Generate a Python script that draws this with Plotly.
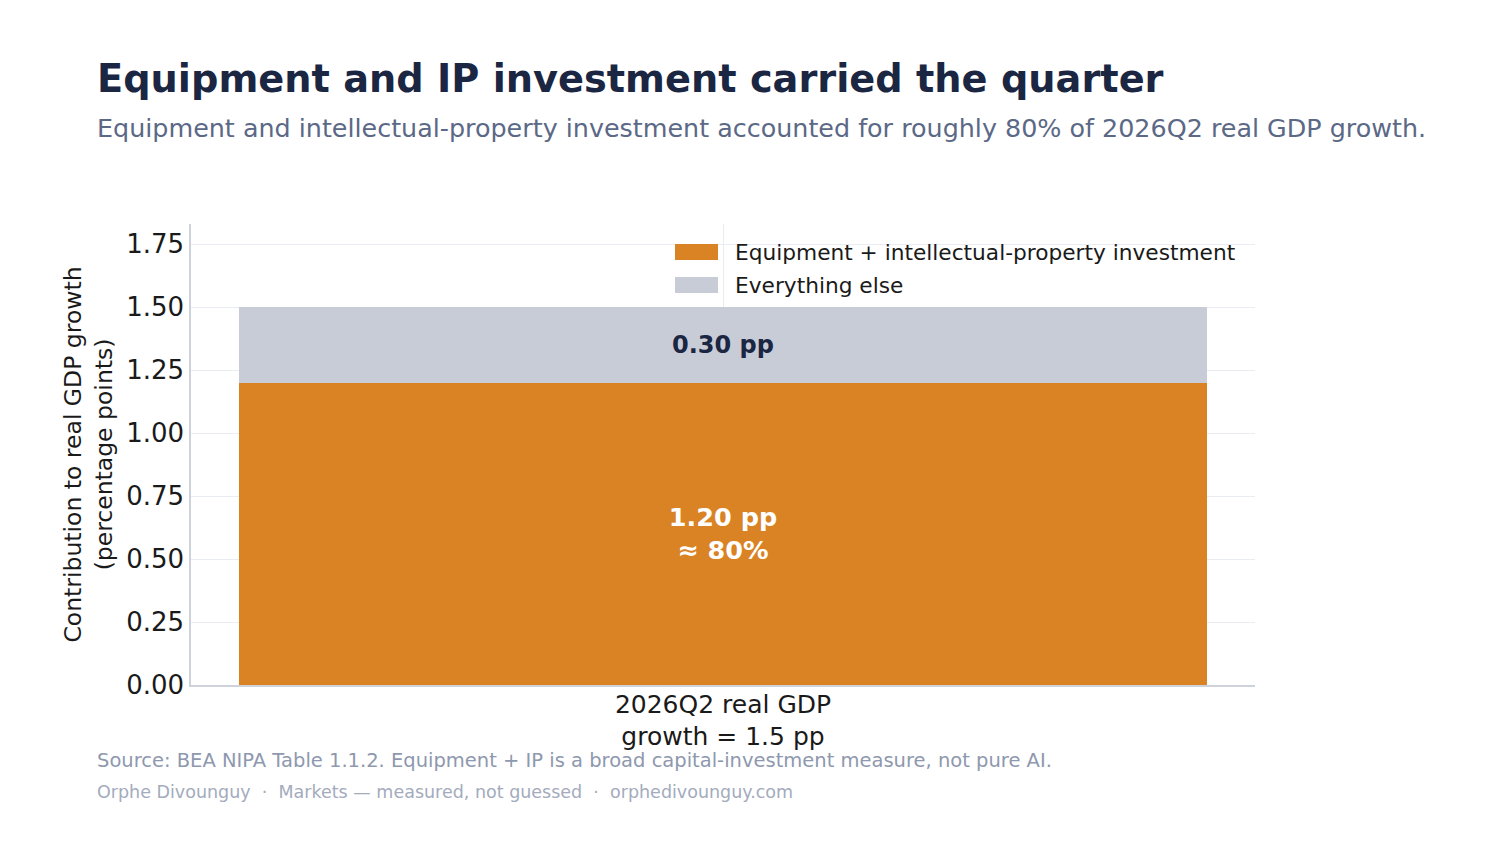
import plotly.graph_objects as go

# ---- data ----
categories = ["2026Q2 real GDP<br>growth = 1.5 pp"]
series_names = ["Equipment + intellectual-property investment", "Everything else"]
equip_ip = [1.20]
everything_else = [0.30]
total_growth = 1.5
y_ticks = [0.00, 0.25, 0.50, 0.75, 1.00, 1.25, 1.50, 1.75]

# ---- style ----
FONT = "DejaVu Sans"
ORANGE = "#D98325"
GREY = "#C8CCD7"
NAVY = "#1B2642"
SUB = "#5B6886"
FOOT1 = "#8E98AE"
FOOT2 = "#A3ABBD"
GRID = "#E9ECF1"
AXIS = "#CDD2DB"

W, H = 1488, 864
OFF = 8  # page offset of the figure inside the browser window
# plot area in reference screen pixels: x 191..1255, y 224..685
L, T = 191 - OFF, 224 - OFF
R = W - (1255 - OFF)
B = H - (685 - OFF)
pw, ph = W - L - R, H - T - B


def px_x(x):
    return (x - OFF - L) / pw


def px_y(y):
    return (H - B - (y - OFF)) / ph


share = [v / total_growth for v in equip_ip]
text_equip = [f"<b>{v:.2f} pp<br>≈ {s:.0%}</b>" for v, s in zip(equip_ip, share)]
text_else = [f"<b>{v:.2f} pp</b>" for v in everything_else]

fig = go.Figure()
fig.add_trace(go.Bar(
    x=categories, y=equip_ip, name=series_names[0], marker_color=ORANGE,
    marker_line_width=0, width=0.8, text=text_equip, textposition="inside",
    insidetextanchor="middle", textangle=0,
    textfont=dict(family=FONT, size=25.5, color="white"), showlegend=False,
    hoverinfo="skip",
))
fig.add_trace(go.Bar(
    x=categories, y=everything_else, name=series_names[1], marker_color=GREY,
    marker_line_width=0, width=0.8, text=text_else, textposition="inside",
    insidetextanchor="middle", textangle=0,
    textfont=dict(family=FONT, size=24, color=NAVY), showlegend=False,
    hoverinfo="skip",
))

fig.update_layout(
    width=W, height=H, barmode="stack",
    margin=dict(l=L, r=R, t=T, b=B, autoexpand=False),
    paper_bgcolor="white", plot_bgcolor="white",
    font=dict(family=FONT, color="#1A1A1A"),
    uniformtext=dict(mode=False),
)
fig.update_xaxes(
    range=[-0.44, 0.44], showgrid=True, gridcolor=GRID, gridwidth=1.2,
    showline=True, linecolor=AXIS, linewidth=1.5, ticks="",
    tickfont=dict(family=FONT, size=25, color="#1A1A1A"), zeroline=False,
    ticklabelstandoff=-4,
)
fig.update_yaxes(
    range=[0, 1.83], tickvals=y_ticks, tickformat=".2f", showgrid=True,
    gridcolor=GRID, gridwidth=1.2, showline=True, linecolor=AXIS, linewidth=1.5,
    ticks="", zeroline=False,
    tickfont=dict(family=FONT, size=26, color="#1A1A1A"),
    title=dict(text="Contribution to real GDP growth<br>(percentage points)",
               font=dict(family=FONT, size=23.5, color="#1A1A1A"), standoff=7),
)

# custom legend (wide patches like the reference)
legend_rows = [(252, ORANGE, series_names[0]), (285, GREY, series_names[1])]
for yc, col, name in legend_rows:
    fig.add_shape(type="rect", xref="paper", yref="paper",
                  x0=px_x(675), x1=px_x(718), y0=px_y(yc + 8), y1=px_y(yc - 8),
                  fillcolor=col, line_width=0, layer="above")
    fig.add_annotation(xref="paper", yref="paper", x=px_x(733), y=px_y(yc),
                       xanchor="left", yanchor="middle", showarrow=False,
                       text=name, font=dict(family=FONT, size=21.7, color="#1A1A1A"))

# title, subtitle, footers
fig.add_annotation(xref="paper", yref="paper", x=px_x(95), y=px_y(78),
                   xanchor="left", yanchor="middle", showarrow=False,
                   text="<b>Equipment and IP investment carried the quarter</b>",
                   font=dict(family=FONT, size=38.3, color=NAVY))
fig.add_annotation(xref="paper", yref="paper", x=px_x(95), y=px_y(128),
                   xanchor="left", yanchor="middle", showarrow=False,
                   text="Equipment and intellectual-property investment accounted for roughly 80% of 2026Q2 real GDP growth.",
                   font=dict(family=FONT, size=25.4, color=SUB))
fig.add_annotation(xref="paper", yref="paper", x=px_x(95), y=px_y(760),
                   xanchor="left", yanchor="middle", showarrow=False,
                   text="Source: BEA NIPA Table 1.1.2. Equipment + IP is a broad capital-investment measure, not pure AI.",
                   font=dict(family=FONT, size=19.5, color=FOOT1))
fig.add_annotation(xref="paper", yref="paper", x=px_x(95), y=px_y(792),
                   xanchor="left", yanchor="middle", showarrow=False,
                   text="Orphe Divounguy  ·  Markets — measured, not guessed  ·  orphedivounguy.com",
                   font=dict(family=FONT, size=17.5, color=FOOT2))

fig.write_html("out.html")
